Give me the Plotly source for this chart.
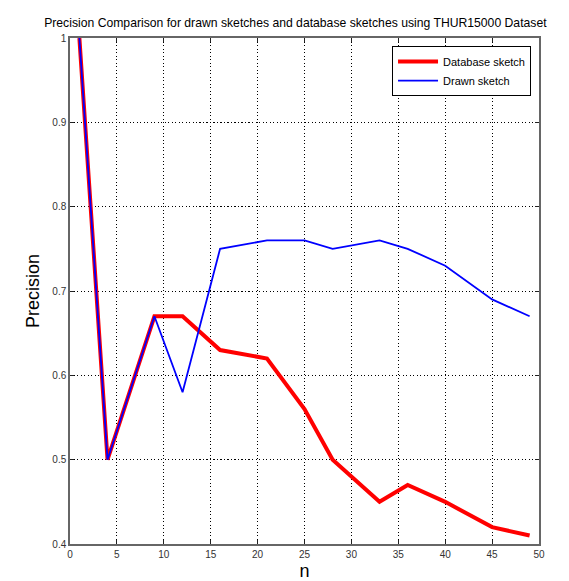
import plotly.graph_objects as go

n_values = [1, 4, 9, 12, 16, 21, 25, 28, 33, 36, 40, 45, 49]
database_sketch = [1.0, 0.5, 0.67, 0.67, 0.63, 0.62, 0.56, 0.50, 0.45, 0.47, 0.45, 0.42, 0.41]
drawn_sketch = [1.0, 0.5, 0.67, 0.58, 0.75, 0.76, 0.76, 0.75, 0.76, 0.75, 0.73, 0.69, 0.67]
x_ticks = [0, 5, 10, 15, 20, 25, 30, 35, 40, 45, 50]
y_ticks = [0.4, 0.5, 0.6, 0.7, 0.8, 0.9, 1.0]
y_tick_text = ["0.4", "0.5", "0.6", "0.7", "0.8", "0.9", "1"]

fig = go.Figure()
fig.add_trace(go.Scatter(x=n_values, y=database_sketch, mode="lines", name="Database sketch",
                         line=dict(color="#ff0000", width=4)))
fig.add_trace(go.Scatter(x=n_values, y=drawn_sketch, mode="lines", name="Drawn sketch",
                         line=dict(color="#0000ff", width=1.8)))

axis_common = dict(
    showgrid=True, gridcolor="#000000", griddash="1.2px,2.3px", gridwidth=1,
    showline=True, linecolor="#666666", linewidth=1.5, mirror="ticks",
    ticks="inside", ticklen=4, tickcolor="#222222",
    tickfont=dict(family="Arial", size=10, color="#333333"),
    zeroline=False,
)

fig.update_layout(
    width=569, height=581,
    margin=dict(l=62, r=38, t=30, b=45),
    paper_bgcolor="white", plot_bgcolor="white",
    title=dict(text="Precision Comparison for drawn sketches and database sketches using THUR15000 Dataset",
               font=dict(family="Arial", size=12.2, color="#000000"),
               x=0.505, xanchor="center", y=0.974, yanchor="middle"),
    xaxis=dict(range=[0, 50], tickvals=x_ticks,
               title=dict(text="n", font=dict(family="Arial", size=18, color="#000000"), standoff=6),
               **axis_common),
    yaxis=dict(range=[0.4, 1.0], tickvals=y_ticks, ticktext=y_tick_text,
               title=dict(text="Precision", font=dict(family="Arial", size=18, color="#000000"), standoff=8),
               **axis_common),
    legend=dict(x=0.983, y=0.984, xanchor="right", yanchor="top",
                bgcolor="white", bordercolor="#000000", borderwidth=1,
                font=dict(family="Arial", size=11, color="#000000"),
                tracegroupgap=0, itemwidth=40),
    showlegend=True,
)

fig.write_html("out.html")
